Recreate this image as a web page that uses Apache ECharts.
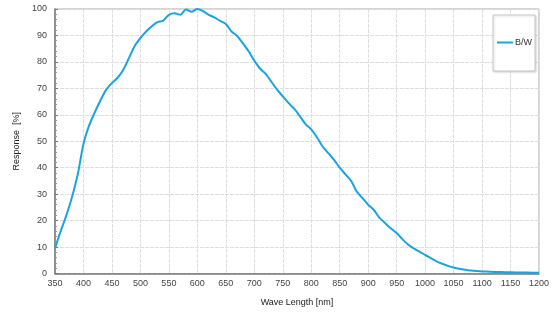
<!DOCTYPE html>
<html>
<head>
<meta charset="utf-8">
<script src="https://cdn.jsdelivr.net/npm/echarts@6/dist/echarts.min.js"></script>
<style>html,body{margin:0;padding:0;background:#fff}#c{width:554px;height:331px}</style>
</head>
<body>
<div id="c"></div>
<script>
const seriesName = "B/W";
const wavelengths = [350,360,370,380,390,400,410,420,430,440,450,460,470,480,490,500,510,520,530,540,550,560,570,580,590,600,610,620,630,640,650,660,670,680,690,700,710,720,730,740,750,760,770,780,790,800,810,820,830,840,850,860,870,880,890,900,910,920,930,940,950,960,970,980,990,1000,1010,1020,1030,1040,1050,1060,1070,1080,1090,1100,1120,1140,1160,1180,1200];
const response = [9.5,16,22,29,37.5,49,56,61,65.5,69.5,72,74,77,81.5,86,89,91.5,93.5,95,95.6,97.8,98.4,97.8,99.8,99,100,99.2,97.8,96.8,95.5,94.3,91.5,89.8,87,84,80.5,77.5,75.5,72.5,69.5,67,64.5,62.3,59.5,56.5,54.5,51.5,48,45.5,43,40,37.5,35,31,28.5,26,24,21,19,17,15.3,13,11,9.5,8.3,7,5.8,4.6,3.7,2.9,2.3,1.8,1.4,1.1,0.9,0.8,0.6,0.5,0.4,0.35,0.3];
const xName = "Wave Length [nm]";
const yName = "Response  [%]";

const chart = echarts.init(document.getElementById('c'), null, {renderer: 'canvas'});
const font = 'Liberation Sans, Arial, sans-serif';
chart.setOption({
  animation: false,
  backgroundColor: '#fff',
  grid: {left: 55, right: 15, top: 9, bottom: 57.5, show: true, borderColor: '#a8a8a8', borderWidth: 1},
  legend: {
    show: true, left: 493, top: 15, orient: 'vertical',
    data: [{name: seriesName, icon: 'rect'}],
    itemWidth: 16, itemHeight: 2, itemGap: 0,
    padding: [23, 3, 24, 4],
    borderColor: '#c8c8c8', borderWidth: 1, backgroundColor: '#fff',
    shadowColor: 'rgba(0,0,0,0.15)', shadowBlur: 2, shadowOffsetX: 1, shadowOffsetY: 1,
    textStyle: {fontFamily: font, fontSize: 9, color: '#333', padding: [0,0,0,-3]}
  },
  xAxis: {
    type: 'value', min: 350, max: 1200, interval: 50,
    name: xName, nameLocation: 'middle', nameGap: 25,
    nameTextStyle: {fontFamily: font, fontSize: 9, color: '#222'},
    axisLine: {show: true, lineStyle: {color: '#777', width: 1.5}},
    axisTick: {show: false},
    axisLabel: {fontFamily: font, fontSize: 9, color: '#444', margin: 6, formatter: v => String(v)},
    splitLine: {show: true, lineStyle: {color: '#dedede', width: 1, type: [4, 1]}}
  },
  yAxis: {
    type: 'value', min: 0, max: 100, interval: 10,
    name: yName, nameLocation: 'middle', nameGap: 29, nameRotate: 90,
    nameTextStyle: {fontFamily: font, fontSize: 9, color: '#222'},
    axisLine: {show: true, lineStyle: {color: '#777', width: 1.5}},
    axisTick: {show: true, inside: true, length: 3, lineStyle: {color: '#777'}},
    minorTick: {show: true, splitNumber: 5, length: 2, lineStyle: {color: '#999'}},
    axisLabel: {fontFamily: font, fontSize: 9, color: '#444', margin: 8},
    splitLine: {show: true, lineStyle: {color: '#dedede', width: 1, type: [4, 1]}}
  },
  series: [{
    name: seriesName, type: 'line', smooth: 0.3, symbol: 'none',
    data: wavelengths.map((w, i) => [w, response[i]]),
    lineStyle: {color: '#1ba3e0', width: 2},
    itemStyle: {color: '#1ba3e0'}
  }]
});
</script>
</body>
</html>
